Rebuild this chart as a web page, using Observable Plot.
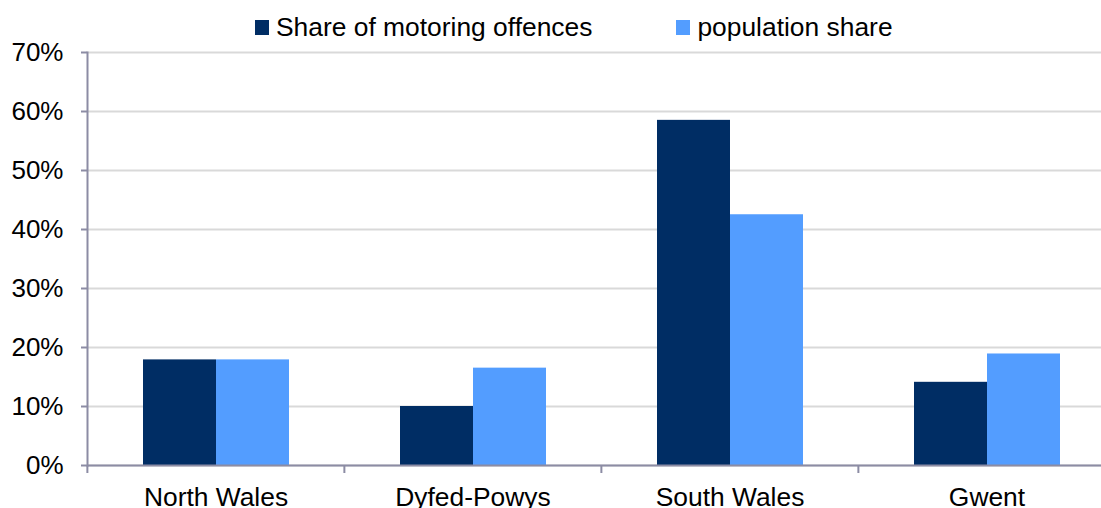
<!DOCTYPE html>
<html>
<head>
<meta charset="utf-8">
<script src="https://cdn.jsdelivr.net/npm/d3@7"></script>
<script src="https://cdn.jsdelivr.net/npm/@observablehq/plot@0.6"></script>
<style>
  html, body { margin: 0; padding: 0; background: #fff; overflow: hidden; }
  #wrap { position: relative; width: 1115px; height: 508px; font-family: "Liberation Sans", Arial, sans-serif; }
  #legend { position: absolute; top: 12px; left: 255px; display: flex; align-items: center; height: 30px; font-size: 26.4px; line-height: 30px; color: #000; }
  .item { display: flex; align-items: center; }
  .sw { width: 14px; height: 15px; margin-right: 7px; }
  #chart { position: absolute; top: 0; left: 0; }
</style>
</head>
<body>
<div id="wrap">
  <div id="chart"></div>
  <div id="legend"></div>
</div>
<script>
const categories = ["North Wales", "Dyfed-Powys", "South Wales", "Gwent"];
const series = ["Share of motoring offences", "population share"];
const offences = [17.9, 10.0, 58.5, 14.1];
const population = [17.9, 16.5, 42.5, 18.9];
const yTicks = [0, 10, 20, 30, 40, 50, 60, 70];
const colors = ["#002d64", "#539dff"];

const data = [];
categories.forEach((c, i) => {
  data.push({category: c, series: series[0], value: offences[i]});
  data.push({category: c, series: series[1], value: population[i]});
});

const axisColor = "#8c8ca4";
const W = 1115, H = 508, mL = 86, mR = 0;
const bandHalf = (W - mL - mR) / categories.length / 2;

const chart = Plot.plot({
  width: W,
  height: H,
  marginLeft: mL,
  marginRight: mR,
  marginTop: 52,
  marginBottom: 43,
  style: {fontFamily: "Liberation Sans, Arial, sans-serif", fontSize: "26px", color: "#000", background: "transparent"},
  fx: {domain: categories, padding: 0, axis: null, label: null},
  x: {domain: series, paddingInner: 0, paddingOuter: 0.75, axis: null},
  y: {domain: [0, 70], axis: null},
  color: {domain: series, range: colors},
  marks: [
    Plot.gridY(yTicks, {stroke: "#d9d9d9", strokeOpacity: 1, strokeWidth: 2}),
    Plot.barY(data, {fx: "category", x: "series", y: "value", fill: "series"}),
    Plot.ruleY([0], {stroke: axisColor, strokeWidth: 2}),
    Plot.frame({anchor: "left", facet: "super", stroke: axisColor, strokeWidth: 2}),
    Plot.axisY(yTicks, {anchor: "left", tickSize: 6, tickPadding: 18, stroke: axisColor, strokeWidth: 2, fontSize: 26, fill: "#000", tickFormat: d => d + "%", label: null}),
    Plot.axisFx({anchor: "bottom", tickSize: 8, dx: -bandHalf, stroke: axisColor, strokeWidth: 2, tickFormat: () => "", label: null}),
    Plot.axisFx({anchor: "bottom", tickSize: 0, tickPadding: 22, fontSize: 26.4, fill: "#000", label: null})
  ]
});
document.getElementById("chart").appendChild(chart);

const legend = document.getElementById("legend");
series.forEach((s, i) => {
  const item = document.createElement("div");
  item.className = "item";
  if (i > 0) item.style.marginLeft = "84px";
  const sw = document.createElement("span");
  sw.className = "sw";
  sw.style.background = colors[i];
  const t = document.createElement("span");
  t.textContent = s;
  item.appendChild(sw);
  item.appendChild(t);
  legend.appendChild(item);
});
</script>
</body>
</html>
